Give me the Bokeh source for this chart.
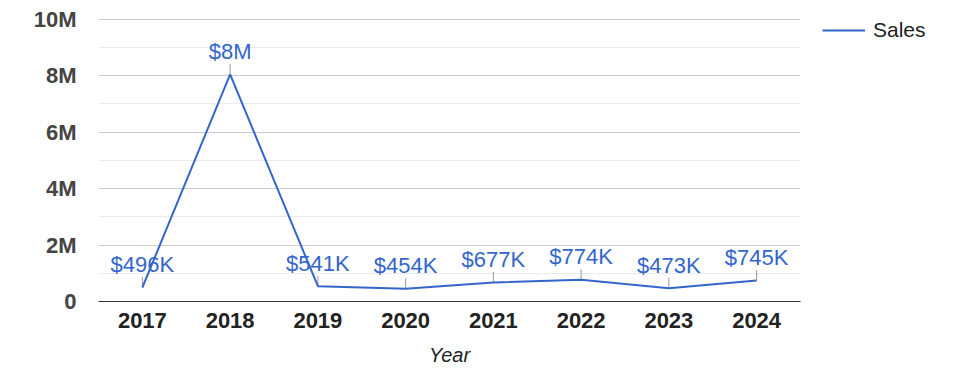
from bokeh.plotting import figure
from bokeh.models import ColumnDataSource, FixedTicker, LabelSet, Legend, LegendItem, FactorRange, Range1d
from bokeh.core.properties import value
from bokeh.embed import file_html
from bokeh.resources import INLINE

years = ["2017", "2018", "2019", "2020", "2021", "2022", "2023", "2024"]
sales = [496000, 8050000, 541000, 454000, 677000, 774000, 473000, 745000]
labels = ["$496K", "$8M", "$541K", "$454K", "$677K", "$774K", "$473K", "$745K"]
y_ticks = [0, 2000000, 4000000, 6000000, 8000000, 10000000]
y_tick_labels = ["0", "2M", "4M", "6M", "8M", "10M"]
y_minor = [1000000, 3000000, 5000000, 7000000, 9000000]

FONT = "Liberation Sans"
BLUE = "#3366cc"

stem = 0.37e6
src = ColumnDataSource(dict(x=years, y=sales, lab=labels, ytop=[v + stem for v in sales]))

p = figure(frame_width=702, frame_height=283, x_range=FactorRange(*years), y_range=Range1d(0, 10030000),
           output_backend="svg", toolbar_location=None,
           min_border_left=98, min_border_right=175, min_border_top=18, min_border_bottom=77)
p.outline_line_color = None
p.background_fill_color = "white"

p.segment(x0="x", y0="y", x1="x", y1="ytop", source=src, line_color="#999999", line_width=1)
r = p.line("x", "y", source=src, line_color=BLUE, line_width=2)

ls = LabelSet(x="x", y="y", text="lab", source=src, text_align="center", text_baseline="middle",
              y_offset=23, text_font=value(FONT), text_font_size="22px", text_color=BLUE)
p.add_layout(ls)

yt = FixedTicker(ticks=y_ticks, minor_ticks=y_minor)
p.yaxis.ticker = yt
p.yaxis.major_label_overrides = {t: l for t, l in zip(y_ticks, y_tick_labels)}
p.yaxis.axis_line_color = None
p.yaxis.major_tick_line_color = None
p.yaxis.minor_tick_line_color = None
p.yaxis.major_tick_out = 0
p.yaxis.major_tick_in = 0
p.yaxis.minor_tick_out = 0
p.yaxis.major_label_text_font = FONT
p.yaxis.major_label_text_font_size = "22px"
p.yaxis.major_label_text_font_style = "bold"
p.yaxis.major_label_text_color = "#444444"
p.yaxis.major_label_standoff = 22

p.ygrid.grid_line_color = "#cccccc"
p.ygrid.minor_grid_line_color = "#ebebeb"
p.xgrid.grid_line_color = None

p.xaxis.axis_line_color = "#333333"
p.xaxis.axis_line_width = 1
p.xaxis.major_tick_line_color = None
p.xaxis.minor_tick_line_color = None
p.xaxis.major_tick_out = 0
p.xaxis.major_tick_in = 0
p.xaxis.major_label_text_font = FONT
p.xaxis.major_label_text_font_size = "22px"
p.xaxis.major_label_text_font_style = "bold"
p.xaxis.major_label_text_color = "#222222"
p.xaxis.major_label_standoff = 11
p.xaxis.axis_label = "Year"
p.xaxis.axis_label_text_font = FONT
p.xaxis.axis_label_text_font_size = "20px"
p.xaxis.axis_label_text_font_style = "italic"
p.xaxis.axis_label_text_color = "#222222"
p.xaxis.axis_label_standoff = 13

legend = Legend(items=[LegendItem(label="Sales", renderers=[r])], location="top_left",
                glyph_width=43, glyph_height=20, label_standoff=8, padding=0, margin=0,
                border_line_color=None, background_fill_alpha=0, label_height=20,
                title=" ", title_location="left", title_standoff=21,
                title_text_font_size="1px",
                label_text_font=FONT, label_text_font_size="21px", label_text_color="#222222")
p.add_layout(legend, "right")

open("out.html", "w").write(file_html(p, INLINE))
